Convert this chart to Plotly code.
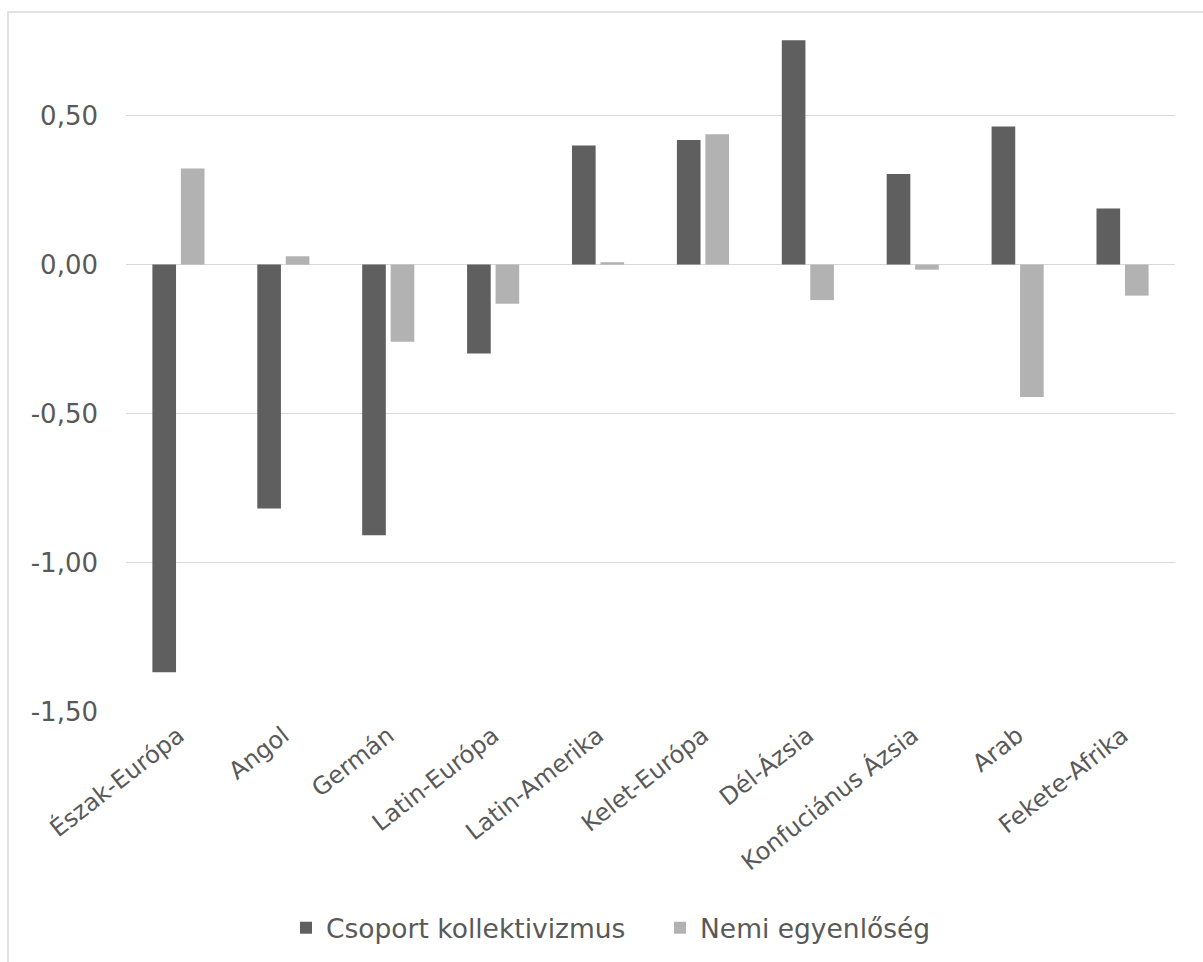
import plotly.graph_objects as go

categories = ["Észak-Európa", "Angol", "Germán", "Latin-Európa", "Latin-Amerika",
              "Kelet-Európa", "Dél-Ázsia", "Konfuciánus Ázsia", "Arab", "Fekete-Afrika"]
csoport = [-1.367, -0.818, -0.907, -0.298, 0.399, 0.418, 0.752, 0.304, 0.463, 0.188]
nemi = [0.322, 0.028, -0.259, -0.131, 0.008, 0.437, -0.119, -0.017, -0.444, -0.104]
series_names = ["Csoport kollektivizmus", "Nemi egyenlőség"]
tick_vals = [-1.5, -1.0, -0.5, 0.0, 0.5]
tick_text = ["-1,50", "-1,00", "-0,50", "0,00", "0,50"]

W, H = 1203, 962
L, R, T, B = 126, 28, 26, 250
FONT = "DejaVu Sans"
TXT = "#595959"

fig = go.Figure()
fig.add_trace(go.Bar(x=categories, y=csoport, name=series_names[0],
                     marker=dict(color="#5f5f5f", line=dict(width=0))))
fig.add_trace(go.Bar(x=categories, y=nemi, name=series_names[1],
                     marker=dict(color="#b2b2b2", line=dict(width=0))))

pw = W - L - R
ph = H - T - B
def px_to_paper_x(px):
    return (px - L) / pw
def px_to_paper_y(py):
    return (H - B - py) / ph

fig.update_layout(
    width=W, height=H,
    margin=dict(l=L, r=R, t=T, b=B, autoexpand=False),
    paper_bgcolor="white", plot_bgcolor="white",
    barmode="group", bargap=0.457, bargroupgap=0.17,
    separators=", ",
    font=dict(family=FONT, color=TXT, size=22),
    showlegend=True,
    legend=dict(orientation="h", x=px_to_paper_x(286), xanchor="left",
                y=px_to_paper_y(928), yanchor="middle",
                entrywidth=329, entrywidthmode="pixels",
                font=dict(family=FONT, size=26.5, color=TXT),
                bgcolor="rgba(0,0,0,0)", traceorder="normal"),
    xaxis=dict(tickangle=-38, tickfont=dict(family=FONT, size=24, color=TXT),
               showgrid=False, showline=False, ticks="", zeroline=False,
               ticklabelstandoff=4),
    yaxis=dict(range=[-1.5, 0.8], tickvals=tick_vals, ticktext=tick_text,
               tickfont=dict(family=FONT, size=26, color=TXT),
               showgrid=True, gridcolor="#d9d9d9", gridwidth=1,
               zeroline=True, zerolinecolor="#d9d9d9", zerolinewidth=1,
               showline=False, ticks="", ticklabelstandoff=27),
    shapes=[dict(type="rect", xref="paper", yref="paper",
                 x0=px_to_paper_x(8), x1=px_to_paper_x(1215),
                 y0=px_to_paper_y(975), y1=px_to_paper_y(12),
                 line=dict(color="#d9d9d9", width=1.5), fillcolor="rgba(0,0,0,0)",
                 layer="below")],
)

fig.write_html("out.html")
